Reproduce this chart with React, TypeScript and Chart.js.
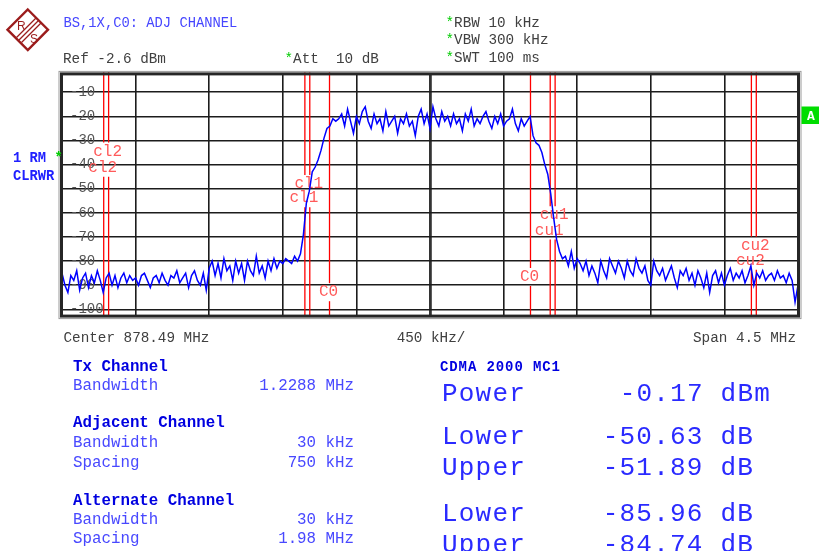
import React, { useEffect, useRef } from 'react';
import { Chart, registerables } from 'chart.js';

Chart.register(...registerables);

// ---- instrument settings ----
const centerMHz = 878.49;
const spanMHz = 4.5;
const refLevelDbm = -2.6;
const rangeDb = 100;
const yTickValues = [-10, -20, -30, -40, -50, -60, -70, -80, -90, -100];

// ---- channel settings ----
const txBandwidthMHz = 1.2288;
const adjBandwidthMHz = 0.03;
const adjSpacingMHz = 0.75;
const altBandwidthMHz = 0.03;
const altSpacingMHz = 1.98;

// ---- trace (dBm), 251 sweep points ----
const traceFloorLeft = [
  -85, -90, -93, -86, -88, -84, -92, -87, -85, -91,
  -86, -89, -84, -88, -93, -87, -85, -90, -86, -91,
  -87, -85, -89, -86, -88, -87, -90, -86, -85, -88,
  -91, -87, -86, -89, -85, -88, -90, -86, -87, -84,
  -89, -87, -85, -91, -86, -84, -88, -90, -85, -92,
];
const traceFloorMid = [
  -83, -80, -86, -81, -87, -79, -84, -82, -88, -80,
  -85, -81, -88, -80, -84, -86, -78, -85, -82, -87,
  -80, -84, -79, -83, -80, -81, -79, -80, -81, -78,
];
const traceRise = [-80, -77, -69, -56, -51, -43, -41, -38, -34, -29, -25, -24, -21, -22];
const traceTop = [
  -21, -19, -24, -17, -22, -27, -20, -23, -18, -16,
  -22, -25, -19, -23, -21, -26, -18, -24, -22, -20,
  -27, -21, -23, -19, -24, -22, -28, -20, -17, -23,
  -19, -25, -16, -21, -24, -18, -22, -20, -24, -19,
  -23, -21, -26, -19, -22, -17, -24, -21, -23, -20,
  -18, -22, -25, -20, -23, -19, -24, -22, -21, -17,
  -23, -26, -21, -24, -22, -20,
];
const traceFall = [-28, -31, -32, -35, -40, -44, -52, -62, -71, -76, -79];
const traceFloorRight = [
  -78, -82, -76, -83, -79, -81, -84, -80, -86, -82,
  -85, -89, -80, -84, -87, -79, -82, -85, -80, -83,
  -87, -80, -84, -86, -79, -83, -85, -82, -88, -90,
  -80, -84, -86, -83, -88, -85, -82, -87, -91, -84,
  -86, -83, -88, -85, -90, -84, -87, -91, -85, -93,
  -86, -84, -89, -85, -90, -86, -83, -88, -85, -87,
  -84, -89, -86, -82, -90, -85, -87, -84, -88, -86,
  -85, -88, -84, -87, -86, -89, -85, -88, -97, -90,
];
const traceDbm = [
  ...traceFloorLeft, ...traceFloorMid, ...traceRise,
  ...traceTop, ...traceFall, ...traceFloorRight,
];

// ---- annotation texts ----
const titleText = 'BS,1X,C0: ADJ CHANNEL';
const leftTable = [
  { label: 'Tx Channel', value: '', bold: true },
  { label: 'Bandwidth', value: '1.2288 MHz', bold: false },
  { label: 'Adjacent Channel', value: '', bold: true },
  { label: 'Bandwidth', value: '30 kHz', bold: false },
  { label: 'Spacing', value: '750 kHz', bold: false },
  { label: 'Alternate Channel', value: '', bold: true },
  { label: 'Bandwidth', value: '30 kHz', bold: false },
  { label: 'Spacing', value: '1.98 MHz', bold: false },
];
const leftTableBaselines = [370.7, 390, 427.3, 446.7, 466.7, 505, 524, 543.3];
const resultLabels = ['Power', 'Lower', 'Upper', 'Lower', 'Upper'];
const resultValues = ['-0.17 dBm', '-50.63 dB', '-51.89 dB', '-85.96 dB', '-84.74 dB'];
const resultBaselines = [400.7, 444, 475, 520.7, 551.5];

// channel marker label heights (dB) — upper label on high edge, lower on low edge
const channelMarkers = [
  { name: 'cl2', offset: -altSpacingMHz, bw: altBandwidthMHz, upperDb: -34.6, lowerDb: -41.3 },
  { name: 'cl1', offset: -adjSpacingMHz, bw: adjBandwidthMHz, upperDb: -48, lowerDb: -53.9 },
  { name: 'C0', offset: 0, bw: txBandwidthMHz, upperDb: -86.6, lowerDb: -92.9 },
  { name: 'cu1', offset: adjSpacingMHz, bw: adjBandwidthMHz, upperDb: -61, lowerDb: -67.3 },
  { name: 'cu2', offset: altSpacingMHz, bw: altBandwidthMHz, upperDb: -73.6, lowerDb: -79.9 },
];

const MONO = '"Liberation Mono", "Courier New", monospace';
const NB = '\u00a0';

const channelPlugin = {
  id: 'channelLines',
  beforeDatasetsDraw(chart: any) {
    const { ctx, chartArea, scales } = chart;
    const xs = scales.x;
    const ys = scales.y;
    ctx.save();
    ctx.font = `16px ${MONO}`;
    const labels: any[] = [];
    const lines: number[] = [];
    channelMarkers.forEach((m) => {
      const lo = xs.getPixelForValue(centerMHz + m.offset - m.bw / 2);
      const hi = xs.getPixelForValue(centerMHz + m.offset + m.bw / 2);
      lines.push(lo, hi);
      labels.push({ text: m.name, cx: hi - 1, cy: ys.getPixelForValue(m.upperDb) });
      labels.push({ text: m.name, cx: lo - 1, cy: ys.getPixelForValue(m.lowerDb) });
    });
    const boxes = labels.map((l) => {
      const w = ctx.measureText(l.text).width;
      return { x0: l.cx - w / 2, x1: l.cx + w / 2, y0: l.cy - 9, y1: l.cy + 9 };
    });
    ctx.strokeStyle = '#ff0000';
    ctx.lineWidth = 1.3;
    lines.forEach((lx) => {
      const gaps = boxes
        .filter((b) => lx >= b.x0 && lx <= b.x1)
        .map((b) => [b.y0, b.y1])
        .sort((a, b) => a[0] - b[0]);
      let yStart = chartArea.top - 2;
      const seg = (a: number, b: number) => {
        if (b <= a) return;
        ctx.beginPath();
        ctx.moveTo(lx, a);
        ctx.lineTo(lx, b);
        ctx.stroke();
      };
      gaps.forEach((g) => {
        seg(yStart, g[0]);
        yStart = Math.max(yStart, g[1]);
      });
      seg(yStart, chartArea.bottom);
    });
    ctx.fillStyle = '#ff5a5a';
    ctx.textAlign = 'center';
    ctx.textBaseline = 'middle';
    labels.forEach((l) => ctx.fillText(l.text, l.cx, l.cy));
    ctx.restore();
  },
};

const framePlugin = {
  id: 'frame',
  afterDraw(chart: any) {
    const { ctx, chartArea } = chart;
    const { left, top, right, bottom } = chartArea;
    ctx.save();
    ctx.strokeStyle = '#9a9a9a';
    ctx.lineWidth = 1;
    ctx.strokeRect(left - 3, top - 3, right - left + 6, bottom - top + 6);
    ctx.strokeStyle = '#262626';
    ctx.lineWidth = 3;
    ctx.strokeRect(left - 0.5, top - 0.5, right - left + 1, bottom - top + 1);
    ctx.restore();
  },
};

export default function App() {
  const canvasRef = useRef<HTMLCanvasElement>(null);

  useEffect(() => {
    if (!canvasRef.current) return;
    const startMHz = centerMHz - spanMHz / 2;
    const stepMHz = spanMHz / (traceDbm.length - 1);
    const points = traceDbm.map((v, i) => ({ x: startMHz + i * stepMHz, y: v }));
    const chart = new Chart(canvasRef.current, {
      type: 'line',
      data: {
        datasets: [
          {
            data: points,
            borderColor: '#0000ff',
            borderWidth: 1.5,
            pointRadius: 0,
            tension: 0,
          },
        ],
      },
      options: {
        animation: false,
        responsive: false,
        maintainAspectRatio: false,
        layout: { padding: 10 },
        plugins: { legend: { display: false }, tooltip: { enabled: false } },
        scales: {
          x: {
            type: 'linear',
            min: centerMHz - spanMHz / 2,
            max: centerMHz + spanMHz / 2,
            afterBuildTicks: (s: any) => {
              const t = [];
              for (let k = 0; k <= 10; k++) t.push({ value: centerMHz - spanMHz / 2 + (k * spanMHz) / 10 });
              s.ticks = t;
            },
            afterFit: (s: any) => {
              s.height = 0;
            },
            ticks: { display: false },
            grid: {
              color: (c: any) => (c.index === 5 ? '#333333' : '#1c1c1c'),
              lineWidth: (c: any) => (c.index === 5 ? 2.8 : 1.6),
              drawTicks: false,
            },
            border: { display: false },
          },
          y: {
            type: 'linear',
            min: refLevelDbm - rangeDb,
            max: refLevelDbm,
            afterBuildTicks: (s: any) => {
              s.ticks = yTickValues.map((v) => ({ value: v }));
            },
            afterFit: (s: any) => {
              s.width = 0;
            },
            ticks: {
              mirror: true,
              padding: 8,
              color: '#555555',
              font: { family: MONO, size: 14 },
              callback: (v: any) => String(v),
            },
            grid: { color: '#1c1c1c', lineWidth: 1.6, drawTicks: false },
            border: { display: false },
          },
        },
      },
      plugins: [channelPlugin, framePlugin],
    });
    return () => chart.destroy();
  }, []);

  const gray = '#404040';
  const green = '#00cc00';
  const blueReg = '#4848ff';
  const blueBold = '#0000e0';
  const blueBig = '#2a2aff';

  return (
    <div
      style={{
        position: 'absolute',
        left: 0,
        top: 0,
        width: 819,
        height: 551,
        overflow: 'hidden',
        background: '#ffffff',
      }}
    >
      <canvas
        ref={canvasRef}
        width={756}
        height={274}
        style={{ position: 'absolute', left: 52, top: 58, width: 756, height: 274 }}
      />
      <svg
        width={819}
        height={551}
        style={{ position: 'absolute', left: 0, top: 0, pointerEvents: 'none' }}
      >
        {/* R&S logo */}
        <g stroke="#9b1c1c" fill="none">
          <polygon points="27.8,9.5 48,29.7 27.8,50 7.5,29.7" strokeWidth={2.4} />
          <line x1="36" y1="18" x2="16.5" y2="37.5" strokeWidth={1.2} />
          <line x1="38.5" y1="20.5" x2="19" y2="40" strokeWidth={1.2} />
          <line x1="41" y1="23" x2="21.5" y2="42.5" strokeWidth={1.2} />
        </g>
        <text x={17} y={30} fontFamily="Liberation Sans, Arial, sans-serif" fontSize={12} fill="#9b1c1c">R</text>
        <text x={30} y={43} fontFamily="Liberation Sans, Arial, sans-serif" fontSize={12} fill="#9b1c1c">S</text>

        <g fontFamily={MONO}>
          <text x={63.5} y={26.5} fontSize={13.8} fill="#4646ff">{titleText}</text>
          <text x={63} y={63} fontSize={14.3} fill={gray}>Ref -2.6 dBm</text>
          <text x={284.5} y={63} fontSize={14.3} fill={gray}>
            <tspan fill={green}>*</tspan>{`Att${NB}${NB}10${NB}dB`}
          </text>
          <text x={445.5} y={26.5} fontSize={14.3} fill={gray}>
            <tspan fill={green}>*</tspan>RBW 10 kHz
          </text>
          <text x={445.5} y={44.3} fontSize={14.3} fill={gray}>
            <tspan fill={green}>*</tspan>VBW 300 kHz
          </text>
          <text x={445.5} y={62.3} fontSize={14.3} fill={gray}>
            <tspan fill={green}>*</tspan>SWT 100 ms
          </text>

          <text x={13} y={161.7} fontSize={13.8} fontWeight="bold" fill="#2020ff">
            {`1${NB}RM${NB}`}<tspan fill={green}>*</tspan>
          </text>
          <text x={13} y={180} fontSize={13.8} fontWeight="bold" fill="#2020ff">CLRWR</text>

          <text x={63.5} y={342} fontSize={14.3} fill={gray}>Center 878.49 MHz</text>
          <text x={431} y={342} fontSize={14.3} fill={gray} textAnchor="middle">450 kHz/</text>
          <text x={796} y={342} fontSize={14.3} fill={gray} textAnchor="end">Span 4.5 MHz</text>

          {leftTable.map((r, i) => (
            <React.Fragment key={i}>
              <text
                x={73}
                y={leftTableBaselines[i]}
                fontSize={15.8}
                fontWeight={r.bold ? 'bold' : 'normal'}
                fill={r.bold ? blueBold : blueReg}
              >
                {r.label}
              </text>
              {r.value ? (
                <text x={354} y={leftTableBaselines[i]} fontSize={15.8} fill={blueReg} textAnchor="end">
                  {r.value}
                </text>
              ) : null}
            </React.Fragment>
          ))}

          <text x={440} y={370.7} fontSize={14} fontWeight="bold" fill={blueBold} letterSpacing={0.9}>
            CDMA 2000 MC1
          </text>
          {resultLabels.map((l, i) => (
            <React.Fragment key={'r' + i}>
              <text x={442} y={resultBaselines[i]} fontSize={26} letterSpacing={1.2} fill={blueBig}>{l}</text>
              <text
                x={i === 0 ? 771 : 754}
                y={resultBaselines[i]}
                fontSize={26}
                letterSpacing={1.2}
                fill={blueBig}
                textAnchor="end"
              >
                {resultValues[i]}
              </text>
            </React.Fragment>
          ))}
        </g>

        <rect x={801.5} y={106.5} width={20} height={17.5} fill="#00dd00" />
        <text x={807} y={120} fontFamily={MONO} fontSize={13} fontWeight="bold" fill="#ffffff">A</text>
      </svg>
    </div>
  );
}
